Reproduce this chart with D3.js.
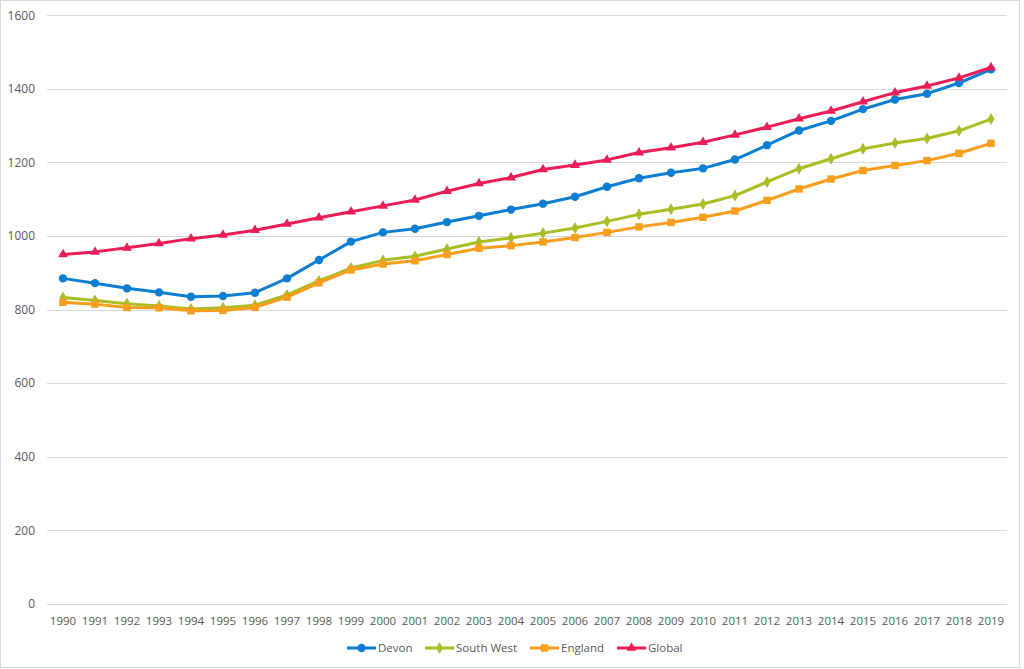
<!DOCTYPE html>
<html>
<head>
<meta charset="utf-8">
<script src="https://cdn.jsdelivr.net/npm/d3@7"></script>
<style>
  body { margin: 0; background: #fff; }
  text { font-family: "Open Sans", "Noto Sans", sans-serif; fill: #595959; }
</style>
</head>
<body>
<div id="chart"></div>
<script>
const years = d3.range(1990, 2020).map(String);
const devon = [885, 872, 858, 847, 835, 837, 846, 885, 935, 985, 1010, 1020, 1038, 1055, 1072, 1088, 1107, 1134, 1157, 1172, 1184, 1208, 1247, 1287, 1313, 1345, 1371, 1387, 1416, 1453];
const southWest = [833, 825, 816, 810, 802, 805, 812, 840, 878, 913, 934, 945, 965, 984, 995, 1008, 1022, 1040, 1059, 1073, 1087, 1110, 1147, 1183, 1210, 1237, 1253, 1265, 1286, 1318];
const england = [820, 815, 806, 805, 797, 798, 806, 834, 873, 908, 924, 933, 950, 967, 974, 984, 996, 1010, 1025, 1037, 1051, 1068, 1097, 1128, 1155, 1178, 1192, 1205, 1225, 1252];
const global = [950, 957, 968, 980, 993, 1003, 1016, 1033, 1050, 1066, 1082, 1098, 1122, 1143, 1159, 1181, 1193, 1207, 1227, 1240, 1255, 1275, 1296, 1319, 1340, 1365, 1390, 1408, 1430, 1458];
const yTicks = [0, 200, 400, 600, 800, 1000, 1200, 1400, 1600];

const series = [
  { name: 'Devon', values: devon, color: '#0B7DD2', symbol: d3.symbolCircle, size: 55 },
  { name: 'South West', values: southWest, color: '#AABD22', symbol: d3.symbolDiamond, size: 42 },
  { name: 'England', values: england, color: '#F89D1C', symbol: d3.symbolSquare, size: 55 },
  { name: 'Global', values: global, color: '#EC1C59', symbol: d3.symbolTriangle, size: 42 }
];

const width = 1024, height = 669;
const margin = { top: 15, right: 16, bottom: 65, left: 47 };

const svg = d3.select('#chart').append('svg')
  .attr('width', width)
  .attr('height', height);

// outer frame
svg.append('rect')
  .attr('x', 0.5).attr('y', 0.5)
  .attr('width', 1019).attr('height', 667)
  .attr('fill', 'none')
  .attr('stroke', '#d9d9d9');

const x = d3.scaleBand()
  .domain(years)
  .range([margin.left, width - margin.right - 1]);

const y = d3.scaleLinear()
  .domain([0, 1600])
  .range([604, 15.3]);

// gridlines
svg.append('g')
  .selectAll('line')
  .data(yTicks)
  .join('line')
  .attr('x1', margin.left)
  .attr('x2', width - margin.right - 1)
  .attr('y1', d => Math.round(y(d)) + 0.5)
  .attr('y2', d => Math.round(y(d)) + 0.5)
  .attr('stroke', '#d9d9d9')
  .attr('stroke-width', 1);

// y labels
svg.append('g')
  .selectAll('text')
  .data(yTicks)
  .join('text')
  .attr('x', 35)
  .attr('y', d => y(d))
  .attr('dy', '0.35em')
  .attr('text-anchor', 'end')
  .attr('font-size', 12)
  .text(d => d);

// x labels
svg.append('g')
  .selectAll('text')
  .data(years)
  .join('text')
  .attr('x', d => x(d) + x.bandwidth() / 2)
  .attr('y', 625)
  .attr('text-anchor', 'middle')
  .attr('font-size', 11.5)
  .text(d => d);

const line = d3.line()
  .x((d, i) => x(years[i]) + x.bandwidth() / 2)
  .y(d => y(d));

series.forEach(s => {
  const g = svg.append('g');
  g.append('path')
    .attr('d', line(s.values))
    .attr('fill', 'none')
    .attr('stroke', s.color)
    .attr('stroke-width', 3)
    .attr('stroke-linejoin', 'round');
  g.selectAll('path.marker')
    .data(s.values)
    .join('path')
    .attr('class', 'marker')
    .attr('transform', (d, i) => `translate(${x(years[i]) + x.bandwidth() / 2},${y(d)})`)
    .attr('d', d3.symbol().type(s.symbol).size(s.size))
    .attr('fill', s.color);
});

// legend
const legendX = [347, 425, 530, 617];
const legend = svg.append('g');
series.forEach((s, i) => {
  const lg = legend.append('g').attr('transform', `translate(${legendX[i]},648)`);
  lg.append('line')
    .attr('x1', 0).attr('x2', 29)
    .attr('stroke', s.color)
    .attr('stroke-width', 3);
  lg.append('path')
    .attr('transform', 'translate(14.5,0)')
    .attr('d', d3.symbol().type(s.symbol).size(s.size))
    .attr('fill', s.color);
  lg.append('text')
    .attr('x', 31)
    .attr('dy', '0.35em')
    .attr('font-size', 11.5)
    .text(s.name);
});
</script>
</body>
</html>
